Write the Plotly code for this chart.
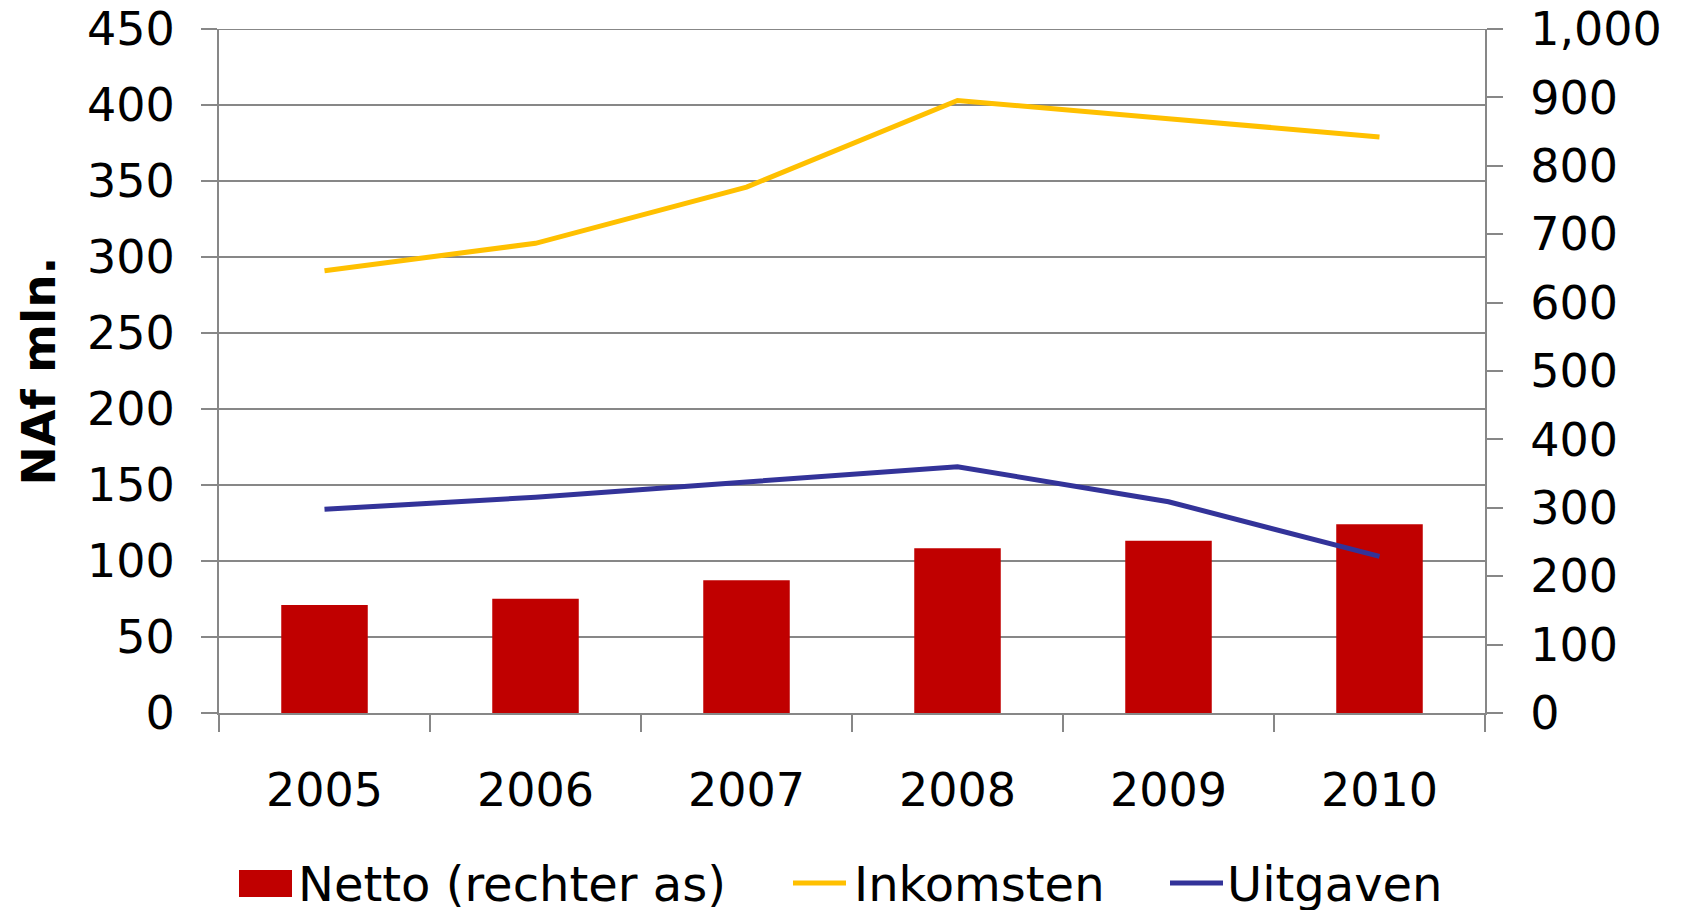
import plotly.graph_objects as go

years = ["2005", "2006", "2007", "2008", "2009", "2010"]
inkomsten = [291, 309, 346, 403, 391, 379]
uitgaven = [134, 142, 152, 162, 139, 103]
netto = [158, 167, 194, 241, 252, 276]

legend_names = ["Netto (rechter as)", "Inkomsten", "Uitgaven"]
colors = ["#C00000", "#FFC000", "#333399"]

grey = "#878787"
font_main = "Verdana, DejaVu Sans, sans-serif"

# the page body adds an 8px margin, so the figure is shifted by that much
OFF = 8
W, H = 1682, 910
ML, MR, MT, MB = 219 - OFF, 197 + OFF, 29 - OFF, 197 + OFF
pw, ph = W - ML - MR, H - MT - MB


def px(x):
    return (x - OFF - ML) / pw


def py(y):
    return (H - MB - (y - OFF)) / ph


fig = go.Figure()
# bars belong to the right axis (primary y), lines to the left axis (overlay)
fig.add_trace(go.Bar(x=years, y=netto, name=legend_names[0],
                     marker=dict(color=colors[0], line=dict(width=0)),
                     width=0.41, yaxis="y"))
fig.add_trace(go.Scatter(x=years, y=inkomsten, name=legend_names[1], mode="lines",
                         line=dict(color=colors[1], width=5), yaxis="y2"))
fig.add_trace(go.Scatter(x=years, y=uitgaven, name=legend_names[2], mode="lines",
                         line=dict(color=colors[2], width=5), yaxis="y2"))

shapes = [
    # plotly leaves out the gridline at the top edge, add it back
    dict(type="line", xref="paper", yref="y2", x0=0, x1=1, y0=450, y1=450,
         line=dict(color=grey, width=2), layer="below"),
    # legend drawn by hand so the keys get the same size as in the original
    dict(type="rect", xref="paper", yref="paper", x0=px(239), x1=px(292),
         y0=py(897), y1=py(870), fillcolor=colors[0], line=dict(width=0)),
    dict(type="line", xref="paper", yref="paper", x0=px(793), x1=px(846),
         y0=py(883), y1=py(883), line=dict(color=colors[1], width=5)),
    dict(type="line", xref="paper", yref="paper", x0=px(1170), x1=px(1223),
         y0=py(883), y1=py(883), line=dict(color=colors[2], width=5)),
]
annotations = []
for name, x0 in zip(legend_names, [296, 852, 1225]):
    annotations.append(dict(text=name, xref="paper", yref="paper", x=px(x0), y=py(884),
                            xanchor="left", yanchor="middle", showarrow=False,
                            font=dict(family=font_main, size=48, color="black")))

fig.update_layout(
    width=W, height=H,
    margin=dict(l=ML, r=MR, t=MT, b=MB),
    paper_bgcolor="white", plot_bgcolor="white",
    font=dict(family=font_main, size=46, color="black"),
    showlegend=False,
    shapes=shapes, annotations=annotations,
    xaxis=dict(type="category", showline=True, linecolor=grey, linewidth=2,
               ticks="outside", tickson="boundaries", ticklen=17, tickcolor=grey,
               tickwidth=2, showgrid=False, tickfont=dict(size=46),
               ticklabelstandoff=36, automargin=False),
    yaxis=dict(side="right", range=[0, 1000], dtick=100, tickformat=",d",
               showgrid=False, zeroline=False, showline=True, linecolor=grey,
               linewidth=2, ticks="outside", ticklen=16, tickcolor=grey, tickwidth=2,
               tickfont=dict(size=46), ticklabelstandoff=18, automargin=False,
               ticklabeloverflow="allow"),
    yaxis2=dict(side="left", overlaying="y", range=[0, 450], dtick=50,
                showgrid=True, gridcolor=grey, gridwidth=2, zeroline=False,
                showline=True, linecolor=grey, linewidth=2, ticks="outside",
                ticklen=16, tickcolor=grey, tickwidth=2, tickfont=dict(size=46),
                ticklabelstandoff=17, automargin=False, ticklabeloverflow="allow",
                title=dict(text="<b>NAf mln.</b>", font=dict(size=47), standoff=17)),
)

fig.write_html("out.html")
